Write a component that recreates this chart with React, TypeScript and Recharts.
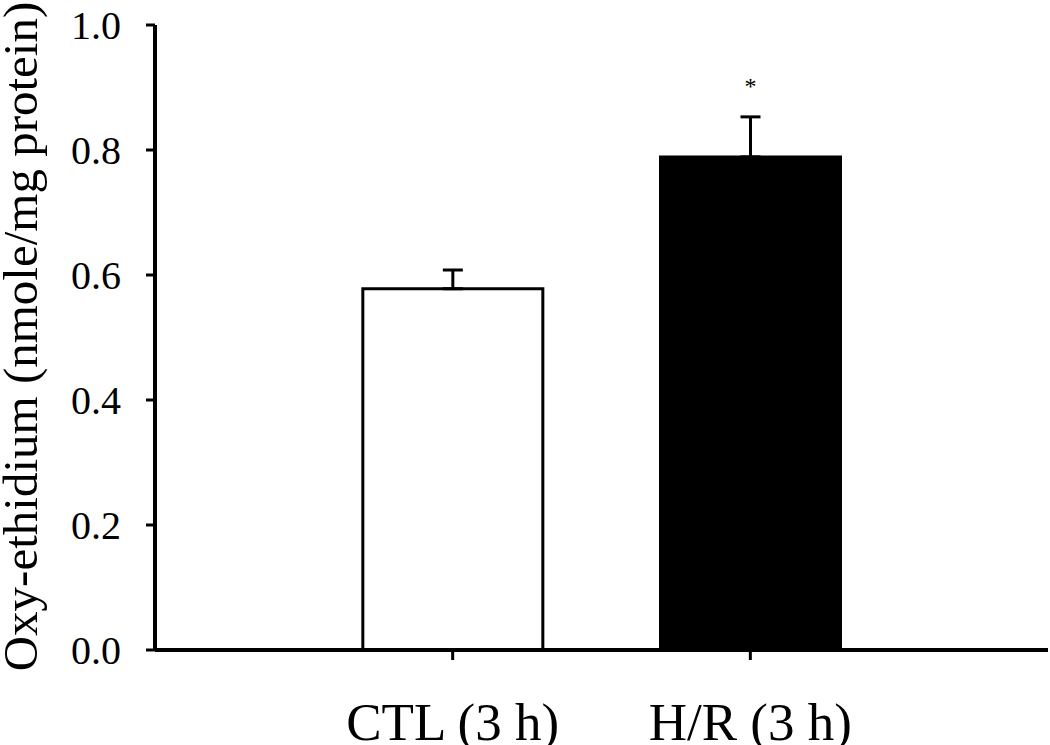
import { BarChart, Bar, XAxis, YAxis, ErrorBar, Cell, LabelList } from 'recharts';

const categories = ['CTL (3 h)', 'H/R (3 h)'];
const means = [0.578, 0.789];
const sems = [0.03, 0.064];
const marks = ['', '*'];
const yTicks = [0, 0.2, 0.4, 0.6, 0.8, 1.0];
const yTitle = 'Oxy-ethidium (nmole/mg protein)';

const FONT = '"Liberation Serif", "Times New Roman", serif';
const barColors = ['#ffffff', '#000000'];

function StarLabel(props: any) {
  const { x, y, width, value } = props;
  if (!value) return null;
  return (
    <text x={x + width / 2} y={y - 63} textAnchor="middle" fontSize={24} fontFamily={FONT} fill="#000">
      {value}
    </text>
  );
}

function YTitle(props: any) {
  const vb = props.viewBox || { x: 0, y: 25, width: 155, height: 625 };
  const cx = vb.x + 37;
  const cy = vb.y + vb.height / 2 - 1;
  return (
    <text x={cx} y={cy} transform={`rotate(-90, ${cx}, ${cy})`} textAnchor="middle" fontSize={49} fontFamily={FONT} fill="#000">
      {yTitle}
    </text>
  );
}

export default function App() {
  const data = categories.map((name, i) => ({
    pos: i + 1,
    name,
    value: means[i],
    err: [0, sems[i]],
    mark: marks[i],
  }));

  return (
    <div style={{ width: 1050, height: 745, background: '#fff' }}>
      <style>{`body{margin:0}`}</style>
      <BarChart width={1050} height={745} data={data} margin={{ top: 25, right: 2, bottom: 0, left: 0 }}>
        <XAxis
          type="number"
          dataKey="pos"
          domain={[0, 3]}
          ticks={[1, 2]}
          tickFormatter={(v: number) => categories[v - 1] ?? ''}
          height={95}
          axisLine={{ stroke: '#000', strokeWidth: 4 }}
          tickLine={{ stroke: '#000', strokeWidth: 3 }}
          tickSize={10}
          tickMargin={42}
          tick={{ fill: '#000', fontSize: 53, fontFamily: FONT }}
        />
        <YAxis
          domain={[0, 1]}
          ticks={yTicks}
          width={155}
          tickFormatter={(v: number) => v.toFixed(1)}
          axisLine={{ stroke: '#000', strokeWidth: 4 }}
          tickLine={{ stroke: '#000', strokeWidth: 3 }}
          tickSize={9}
          tickMargin={25}
          tick={{ fill: '#000', fontSize: 40, fontFamily: FONT }}
          label={{ content: YTitle }}
        />
        <Bar dataKey="value" barSize={180} stroke="#000" strokeWidth={3} isAnimationActive={false}>
          {data.map((d, i) => (
            <Cell key={d.name} fill={barColors[i]} />
          ))}
          <ErrorBar dataKey="err" width={10} stroke="#000" strokeWidth={3} direction="y" />
          <LabelList dataKey="mark" content={StarLabel} />
        </Bar>
      </BarChart>
    </div>
  );
}
